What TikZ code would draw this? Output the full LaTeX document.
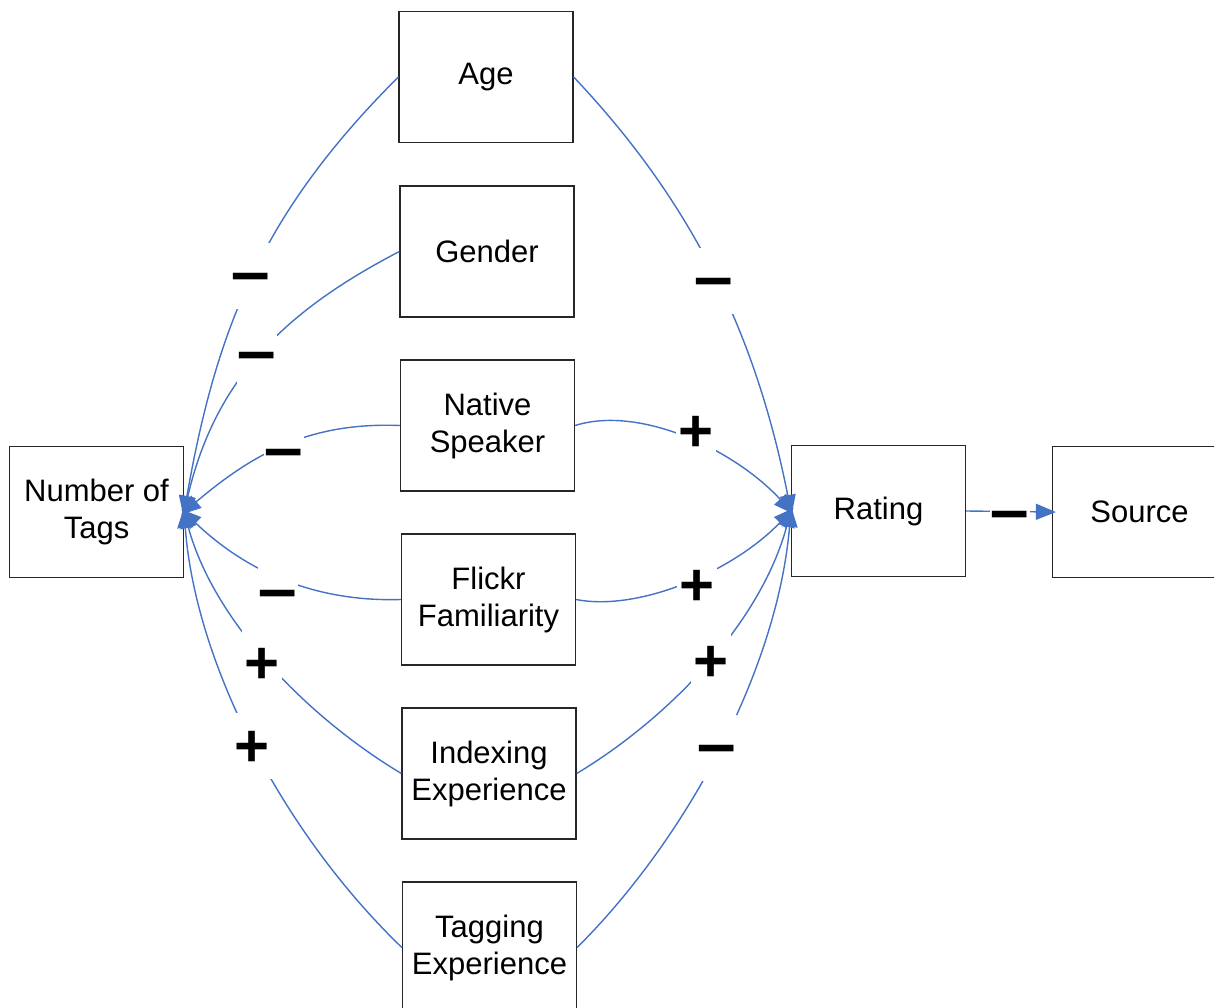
\documentclass[tikz,border=0pt]{standalone}
\usepackage{fontspec}
\setmainfont{Liberation Sans}
\usetikzlibrary{arrows.meta}
\definecolor{linkblue}{RGB}{68,114,196}
\newcommand{\minussign}{\scalebox{1.15}[1]{−}}
\begin{document}
\begin{tikzpicture}[x=1pt,y=1pt,
  box/.style={draw=black!85, line width=1.3pt, fill=white, minimum width=174pt,
    minimum height=131pt, inner sep=0pt, align=center, font=\fontsize{31}{37}\selectfont},
  link/.style={draw=linkblue, line width=1.4pt, shorten >=-4pt,
    -{Triangle[length=20pt,width=16pt]}},
  lbl/.style={fill=white, minimum width=40pt, minimum height=66pt, inner sep=0pt,
    text height=40pt, text depth=0pt, font=\fontsize{60}{60}\selectfont\bfseries}
]
\path[use as bounding box] (0,0) rectangle (1214,-1008);
\clip (0,0) rectangle (1214,-1008);

% boxes
\node[box] (age)    at (486,-77)     {Age};
\node[box] (gender) at (487,-251.5)  {Gender};
\node[box] (native) at (487.5,-425.5) {Native\\Speaker};
\node[box] (flickr) at (488.5,-599.5) {Flickr\\Familiarity};
\node[box] (index)  at (489,-773.5)  {Indexing\\Experience};
\node[box] (tagexp) at (489.5,-947.5) {Tagging\\Experience};
\node[box] (tags)   at (96.5,-512) {Number of\\Tags};
\node[box] (rating) at (878.5,-511) {Rating};
\node[box] (source) at (1139.5,-512) {Source};

% left connectors
\draw[link] (age.west)    .. controls (265,-210) and (217,-324) .. (tags.east);
\draw[link] (gender.west) .. controls (283,-312) and (215,-380) .. (tags.east);
\draw[link] (native.west) .. controls (310,-422) and (254,-453) .. (tags.east);
\draw[link] (flickr.west) .. controls (320,-602) and (250,-575) .. (tags.east);
\draw[link] (index.west)  .. controls (312,-720) and (215,-625) .. (tags.east);
\draw[link] (tagexp.west) .. controls (280,-830) and (195,-660) .. (tags.east);

% right connectors
\draw[link] (age.east)    .. controls (690,-200) and (755,-330) .. (rating.west);
\draw[link] (native.east) .. controls (640,-405) and (735,-450) .. (rating.west);
\draw[link] (flickr.east) .. controls (640,-612) and (735,-570) .. (rating.west);
\draw[link] (index.east)  .. controls (666,-720) and (760,-625) .. (rating.west);
\draw[link] (tagexp.east) .. controls (690,-835) and (778,-665) .. (rating.west);

\draw[link] (rating.east) -- (source.west);

% sign labels
\node[lbl] (l1) at (251,-276) {\minussign};
\node[lbl] (l2) at (257,-355) {\minussign};
\node[lbl] (l3) at (284,-452) {\minussign};
\node[lbl] (l4) at (278,-593) {\minussign};
\node[lbl] (l5) at (262,-663) {+};
\node[lbl] (l6) at (252,-746) {+};
\node[lbl] (r1) at (714,-281) {\minussign};
\node[lbl] (r2) at (696,-431) {+};
\node[lbl] (r3) at (697,-585) {+};
\node[lbl] (r4) at (711,-661) {+};
\node[lbl] (r5) at (717,-748) {\minussign};
\node[lbl] (s1) at (1010,-514) {\minussign};
\end{tikzpicture}
\end{document}
